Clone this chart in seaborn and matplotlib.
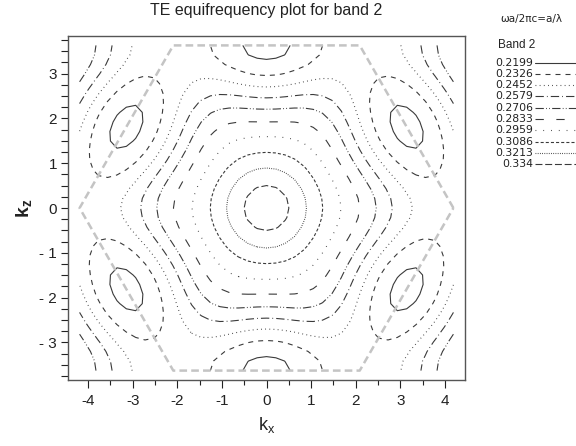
import numpy as np
import pandas as pd
import matplotlib
matplotlib.use("Agg")
import matplotlib.pyplot as plt
from matplotlib.lines import Line2D
import seaborn as sns

# ---------------- data ----------------
levels = [0.2199, 0.2326, 0.2452, 0.2579, 0.2706, 0.2833, 0.2959, 0.3086, 0.3213, 0.334]
level_labels = ["0.2199", "0.2326", "0.2452", "0.2579", "0.2706",
                "0.2833", "0.2959", "0.3086", "0.3213", "0.334"]

# contour crossings along Gamma-M (kx = 0, kz = r)
gm_r = [3.37, 3.05, 2.73, 2.45, 2.18, 1.88, 1.56, 1.22, 0.85, 0.44]
gm_f = [0.2199, 0.2326, 0.2452, 0.2579, 0.2706, 0.2833, 0.2959, 0.3086, 0.3213, 0.334]
# contour crossings along Gamma-K (kz = 0, kx = r)
gk_r = [3.36, 2.88, 2.41, 2.06, 1.72, 1.33, 0.99, 0.52]
gk_f = [0.2452, 0.2579, 0.2706, 0.2833, 0.2959, 0.3086, 0.3213, 0.334]
# special points: M, K, the M-loop crossing along the zone edge, Gamma
special_kx = [0.0, 4.19, 0.85, 0.0]
special_kz = [3.63, 0.0, 3.63, 0.0]
special_f = [0.2135, 0.2385, 0.2199, 0.342]

# Brillouin-zone hexagon
bz_kx = [4.19, 2.09, -2.09, -4.19, -2.09, 2.09, 4.19]
bz_kz = [0.0, 3.63, 3.63, 0.0, -3.63, -3.63, 0.0]

# ---------------- hexagonal Fourier fit of the band ----------------
a1 = np.array([1.0, 0.0])
a2 = np.array([0.5, np.sqrt(3) / 2])
shells = {}
for n in range(-4, 5):
    for m in range(-4, 5):
        d = n * n + n * m + m * m
        if d in (1, 3, 4, 7, 9, 12):
            shells.setdefault(d, []).append(n * a1 + m * a2)
shell_keys = sorted(shells)


def basis(kx, kz):
    kx = np.asarray(kx, float)
    kz = np.asarray(kz, float)
    cols = [np.ones_like(kx)]
    for d in shell_keys:
        s = np.zeros_like(kx)
        for R in shells[d]:
            s = s + np.cos(kx * R[0] + kz * R[1])
        cols.append(s / len(shells[d]))
    return np.stack(cols, axis=-1)


px = np.concatenate([np.zeros(len(gm_r)), gk_r, special_kx])
pz = np.concatenate([gm_r, np.zeros(len(gk_r)), special_kz])
pf = np.concatenate([gm_f, gk_f, special_f])
A = basis(px, pz)
lam = 1e-5
coef = np.linalg.solve(A.T @ A + lam * np.eye(A.shape[1]), A.T @ pf)

kx_grid = np.linspace(-4.19, 4.19, 41)
kz_grid = np.linspace(-3.63, 3.63, 35)
KX, KZ = np.meshgrid(kx_grid, kz_grid)
F = basis(KX, KZ) @ coef

# ---------------- styling ----------------
sns.set_style("ticks")
plt.rcParams["font.family"] = ["Liberation Sans", "DejaVu Sans"]
plt.rcParams["mathtext.fontset"] = "custom"
plt.rcParams["mathtext.rm"] = "Liberation Sans"
plt.rcParams["mathtext.bf"] = "Liberation Sans:bold"
plt.rcParams["lines.scale_dashes"] = False

line_color = "#3a3a3a"
txt_color = "#222222"
styles = [
    "-",
    (0, (3.6, 3.6)),
    (0, (0.6, 2.4)),
    (0, (6.0, 2.2, 0.6, 2.2)),
    (0, (6.0, 1.6, 0.6, 1.6, 0.6, 1.6)),
    (0, (6.0, 9.0)),
    (0, (0.6, 5.0)),
    (0, (2.2, 1.5)),
    (0, (0.6, 1.0)),
    (0, (5.0, 2.0)),
]

fig = plt.figure(figsize=(5.76, 4.46), dpi=100)
ax = fig.add_axes([68 / 576, 1 - 380 / 446, 397 / 576, 344 / 446])

for lv, ls in zip(levels, styles):
    ax.contour(KX, KZ, F, levels=[lv], colors=line_color, linewidths=0.8, linestyles=[ls])

bz = pd.DataFrame({"kx": bz_kx, "kz": bz_kz})
sns.lineplot(data=bz, x="kx", y="kz", sort=False, estimator=None, ax=ax,
             color="#c4c4c4", linewidth=1.8, linestyle=(0, (5.5, 3.0)))

ax.set_xlim(-4.45, 4.45)
ax.set_ylim(-3.84, 3.84)
ax.set_xticks(range(-4, 5))
ax.set_xticklabels([str(v) for v in range(-4, 5)])
ax.set_xticks(np.arange(-4.0, 4.5, 0.5), minor=True)
ax.set_yticks(range(-3, 4))
ax.set_yticklabels([("- " + str(-v)) if v < 0 else str(v) for v in range(-3, 4)])
ax.set_yticks(np.arange(-3.75, 3.8, 0.25), minor=True)
ax.tick_params(axis="x", which="major", length=6, width=0.8, labelsize=11, colors=txt_color, pad=4)
ax.tick_params(axis="x", which="minor", length=3.5, width=0.8, colors=txt_color)
ax.tick_params(axis="y", which="both", length=5, width=0.8, labelsize=11, colors=txt_color, pad=3)
for s in ax.spines.values():
    s.set_color("#555555")
    s.set_linewidth(1.0)

ax.set_xlabel(r"$\mathregular{k_x}$", fontsize=13, labelpad=5, color=txt_color)
ax.set_ylabel(r"$\mathbf{k_z}$", fontsize=14, labelpad=4, color=txt_color)
ax.set_title("TE equifrequency plot for band 2", fontsize=11.5, pad=15, color=txt_color)

# legend (drawn in figure pixel space)
W, H = 576.0, 446.0
fig.text(531 / W, 1 - 19 / H, "ωa/2πc=a/λ", fontsize=7.5, ha="center", va="center",
         color=txt_color, family=["DejaVu Sans"])
fig.text(498 / W, 1 - 45 / H, "Band 2", fontsize=8.5, ha="left", va="center", color=txt_color)
for i, (lab, ls) in enumerate(zip(level_labels, styles)):
    y = 1 - (62.5 + i * 11.3) / H
    fig.text(533 / W, y, lab, fontsize=7.8, ha="right", va="center", color=txt_color,
             family=["DejaVu Sans"])
    fig.add_artist(Line2D([535 / W, 576 / W], [y, y], transform=fig.transFigure,
                          color=line_color, linewidth=0.8, linestyle=ls))

fig.savefig("out.png", dpi=100)
